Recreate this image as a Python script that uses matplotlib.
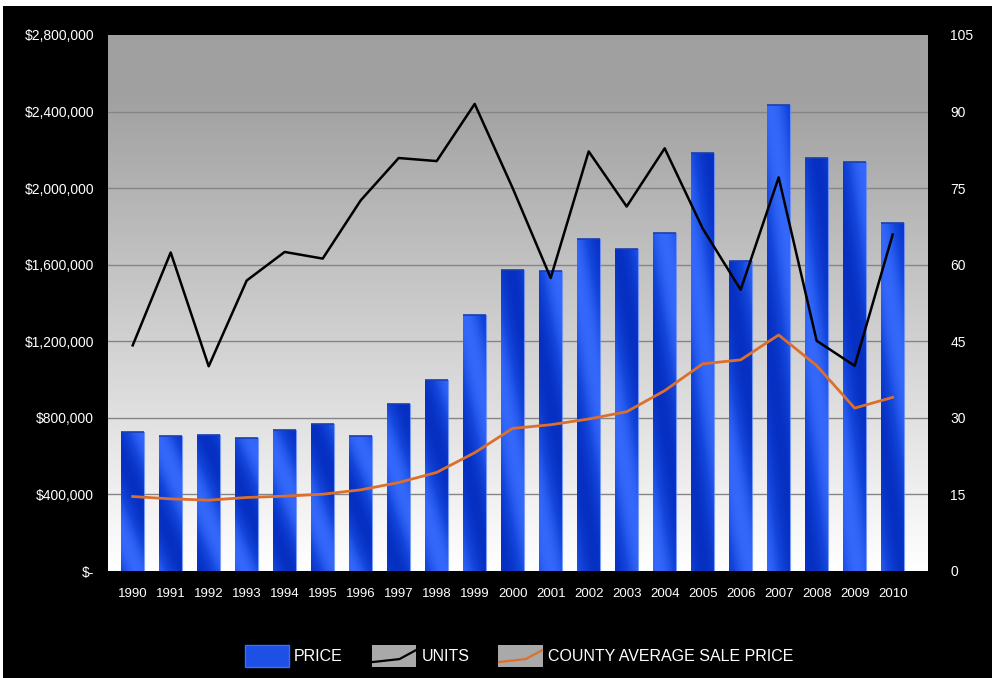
import numpy as np
import matplotlib
matplotlib.use('Agg')
import matplotlib.pyplot as plt
from matplotlib.patches import Patch, Rectangle
from matplotlib.lines import Line2D
from matplotlib.colors import LinearSegmentedColormap
from matplotlib.legend_handler import HandlerBase

# ── Data ────────────────────────────────────────────
years = [str(y) for y in range(1990, 2011)]
price = [724000, 703000, 712000, 694000, 738000, 766000, 707000, 870000, 998000,
         1338000, 1575000, 1567000, 1734000, 1682000, 1764000, 2186000, 1622000,
         2434000, 2156000, 2134000, 1820000]
units = [44.2, 62.4, 40.1, 56.9, 62.5, 61.2, 72.6, 80.9, 80.3, 91.5, 75.0,
         57.4, 82.2, 71.4, 82.8, 67.1, 55.1, 77.1, 45.1, 40.2, 65.9]
county_avg = [389000, 377000, 370000, 384000, 391000, 401000, 424000, 462000, 515000,
              618000, 745000, 764000, 794000, 832000, 942000, 1082000, 1103000,
              1233000, 1073000, 851000, 907000]
left_ticks = [0, 400000, 800000, 1200000, 1600000, 2000000, 2400000, 2800000]
right_ticks = [0, 15, 30, 45, 60, 75, 90, 105]

# ── Palette ─────────────────────────────────────────
BLACK = "#000000"; WHITE = "#FFFFFF"; GRID = "#858585"
ORANGE = "#DD6F2C"; LIGHT_BLUE = "#3468FA"; DARK_BLUE = "#0630C2"
LEG_GREY = "#A9A9A9"

plt.rcParams['font.family'] = ['Liberation Sans', 'DejaVu Sans']


class GreyLineHandler(HandlerBase):
    """grey box with a little rising line, like the original legend keys"""
    def __init__(self, color):
        super().__init__()
        self.color = color

    def create_artists(self, legend, orig_handle, xdescent, ydescent,
                       width, height, fontsize, trans):
        x0, y0 = -xdescent, -ydescent
        box = Rectangle((x0, y0), width, height, facecolor=LEG_GREY,
                        edgecolor='none', transform=trans)
        ln = Line2D([x0, x0 + 0.62 * width, x0 + width],
                    [y0 + 0.22 * height, y0 + 0.36 * height, y0 + 0.78 * height],
                    color=self.color, linewidth=1.6, transform=trans,
                    solid_capstyle='butt')
        return [box, ln]


fig = plt.figure(figsize=(9.92, 6.78), dpi=100, facecolor=WHITE)
fig.patches.append(Rectangle((3 / 992, 0), 1, 1 - 6 / 678, transform=fig.transFigure,
                             facecolor=BLACK, edgecolor='none', zorder=-10))

ax = fig.add_axes([108 / 992, 1 - 571 / 678, 820 / 992, 536 / 678])
ax.set_facecolor('none')
x = np.arange(len(years))
ax.set_xlim(-0.65, 20.93)
ax.set_ylim(0, 2800000)

# background gradient (grey top -> white bottom)
bg = np.clip(np.linspace(1.0, 0.0, 256) * 1.12, 0, 1).reshape(-1, 1)
bg_cmap = LinearSegmentedColormap.from_list('bg', ['#FFFFFF', '#A0A0A0'])
ax.imshow(bg, aspect='auto', cmap=bg_cmap, extent=[0, 1, 0, 1],
          transform=ax.transAxes, zorder=0, origin='upper', vmin=0, vmax=1)

for t in left_ticks[1:-1]:
    ax.axhline(t, color=GRID, linewidth=1.0, zorder=1)

# bars with a blue texture gradient
bars = ax.bar(x, price, width=0.59, color=LIGHT_BLUE, zorder=2, linewidth=0)
blue_cmap = LinearSegmentedColormap.from_list('blue', [DARK_BLUE, '#1446DC', LIGHT_BLUE])
gx, gy = np.meshgrid(np.linspace(0, 1, 60), np.linspace(0, 1, 120))
for i, b in enumerate(bars):
    phase = (i * 0.37) % 1.0
    tex = 0.5 + 0.5 * np.sin(2 * np.pi * (gy * 0.9 + gx * 0.35 + phase))
    b.set_facecolor('none')
    im = ax.imshow(tex, aspect='auto', cmap=blue_cmap, origin='lower',
                   extent=[b.get_x(), b.get_x() + b.get_width(), 0, b.get_height()],
                   zorder=2, interpolation='bilinear')
    im.set_clip_path(b)
    ax.plot([b.get_x(), b.get_x() + b.get_width()], [b.get_height()] * 2,
            color='#1A3FB0', linewidth=1.2, zorder=3, solid_capstyle='butt')
    ax.plot([b.get_x() + b.get_width()] * 2, [0, b.get_height()],
            color='#5C86FF', linewidth=0.8, zorder=3, alpha=0.8)

ax.plot(x, county_avg, color=ORANGE, linewidth=2.0, zorder=4)

ax2 = ax.twinx()
ax2.set_ylim(0, 105)
ax2.plot(x, units, color=BLACK, linewidth=1.8, zorder=5)

for a in (ax, ax2):
    for s in a.spines.values():
        s.set_visible(False)

ax.set_yticks(left_ticks)
ax.set_yticklabels(['$-' if t == 0 else f"${t:,.0f}" for t in left_ticks])
ax.tick_params(axis='y', length=0, pad=10, labelcolor=WHITE, labelsize=10)
ax.set_xticks(x)
ax.set_xticklabels(years)
ax.tick_params(axis='x', length=0, pad=12, labelcolor=WHITE, labelsize=9.5)
ax2.set_yticks(right_ticks)
ax2.tick_params(axis='y', length=0, pad=16, labelcolor=WHITE, labelsize=10)

# legend
units_key = Line2D([], [], color=BLACK)
county_key = Line2D([], [], color=ORANGE)
handles = [Patch(facecolor='#1E50E6', edgecolor='#3A6CFF'), units_key, county_key]
labels = ['PRICE', 'UNITS', 'COUNTY AVERAGE SALE PRICE']
leg = fig.legend(handles, labels, loc='center', bbox_to_anchor=(0.523, 1 - 656 / 678),
                 ncol=3, frameon=False, fontsize=11.5, labelcolor=WHITE,
                 handlelength=2.8, handleheight=1.74, handletextpad=0.3, columnspacing=1.8,
                 handler_map={units_key: GreyLineHandler(BLACK),
                              county_key: GreyLineHandler(ORANGE)})

fig.savefig('out.png', dpi=100, facecolor=fig.get_facecolor())
